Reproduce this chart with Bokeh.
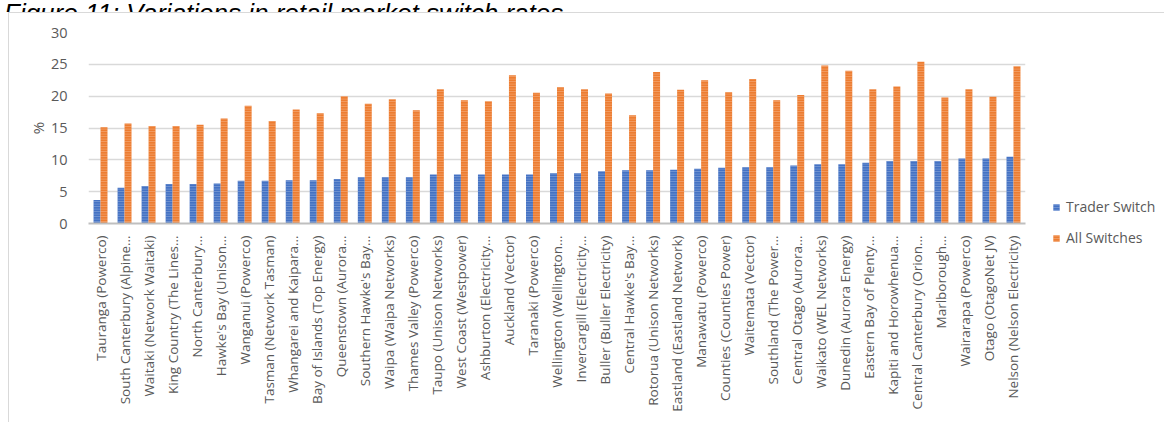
import math
from bokeh.plotting import figure
from bokeh.layouts import column
from bokeh.models import (FactorRange, ColumnDataSource, Legend, LegendItem, Div,
                          SingleIntervalTicker)
from bokeh.transform import dodge
from bokeh.embed import file_html
from bokeh.resources import INLINE

categories = [
    "Tauranga (Powerco)", "South Canterbury (Alpine…", "Waitaki (Network Waitaki)",
    "King Country (The Lines…", "North Canterbury…", "Hawke's Bay (Unison…",
    "Wanganui (Powerco)", "Tasman (Network Tasman)", "Whangarei and Kaipara…",
    "Bay of Islands (Top Energy)", "Queenstown (Aurora…", "Southern Hawke's Bay…",
    "Waipa (Waipa Networks)", "Thames Valley (Powerco)", "Taupo (Unison Networks)",
    "West Coast (Westpower)", "Ashburton (Electricity…", "Auckland (Vector)",
    "Taranaki (Powerco)", "Wellington (Wellington…", "Invercargill (Electricity…",
    "Buller (Buller Electricity)", "Central Hawke's Bay…", "Rotorua (Unison Networks)",
    "Eastland (Eastland Network)", "Manawatu (Powerco)", "Counties (Counties Power)",
    "Waitemata (Vector)", "Southland (The Power…", "Central Otago (Aurora…",
    "Waikato (WEL Networks)", "Dunedin (Aurora Energy)", "Eastern Bay of Plenty…",
    "Kapiti and Horowhenua…", "Central Canterbury (Orion…", "Marlborough…",
    "Wairarapa (Powerco)", "Otago (OtagoNet JV)", "Nelson (Nelson Electricity)",
]
trader_switch = [
    3.7, 5.6, 5.9, 6.2, 6.2, 6.3, 6.7, 6.7, 6.8, 6.8, 7.0, 7.25, 7.25,
    7.25, 7.7, 7.7, 7.7, 7.7, 7.7, 7.9, 7.9, 8.2, 8.35, 8.35, 8.45, 8.6,
    8.75, 8.85, 8.85, 9.1, 9.3, 9.3, 9.55, 9.8, 9.8, 9.8, 10.2, 10.2, 10.5,
]
all_switches = [
    15.1, 15.7, 15.3, 15.3, 15.5, 16.5, 18.5, 16.1, 17.9, 17.3, 20.0, 18.8, 19.5,
    17.8, 21.1, 19.35, 19.2, 23.3, 20.55, 21.4, 21.1, 20.4, 17.0, 23.8, 21.0, 22.5,
    20.6, 22.7, 19.35, 20.2, 24.8, 24.0, 21.1, 21.5, 25.4, 19.8, 21.1, 19.9, 24.7,
]
series_names = ["Trader Switch", "All Switches"]
title_text = "Figure 11: Variations in retail market switch rates"

src = ColumnDataSource(dict(cat=categories, ts=trader_switch, al=all_switches))

# title strip (only the lower part of the caption is visible, as in the source)
title = Div(text=title_text, width=1164, height=12, margin=0,
            styles={"overflow": "hidden", "white-space": "nowrap",
                    "font-family": "'Liberation Sans', Arial, sans-serif",
                    "font-style": "italic", "font-size": "26px", "color": "black",
                    "line-height": "26px"},
            stylesheets=[":host > div, div { margin-top: -14px; margin-left: 4px; }"])

p = figure(frame_width=937, frame_height=191,
           x_range=FactorRange(*categories, range_padding=0),
           y_range=(0, 30), output_backend="svg", toolbar_location=None,
           min_border_left=88, min_border_right=0, min_border_top=20,
           min_border_bottom=199, margin=0)
p.x_range.range_padding = 0
p.border_fill_color = None
p.background_fill_color = "white"
p.styles = {
    "background-color": "white",
    "background-image": "linear-gradient(#d9d9d9, #d9d9d9), linear-gradient(#d9d9d9, #d9d9d9)",
    "background-size": "1px 420px, 1160px 1px",
    "background-position": "8px 0px, 8px 0px",
    "background-repeat": "no-repeat",
}

bw = 0.29
r1 = p.vbar(x=dodge("cat", -bw / 2, range=p.x_range), top="ts", width=bw, source=src,
            fill_color="#4472C4", line_color=None,
            hatch_pattern="horizontal_line", hatch_color="white", hatch_alpha=0.28,
            hatch_scale=2.5, hatch_weight=1)
r2 = p.vbar(x=dodge("cat", bw / 2, range=p.x_range), top="al", width=bw, source=src,
            fill_color="#ED7D31", line_color=None,
            hatch_pattern="horizontal_line", hatch_color="white", hatch_alpha=0.28,
            hatch_scale=2.5, hatch_weight=1)

FONT = "Open Sans"
p.outline_line_color = None
p.xgrid.grid_line_color = None
p.ygrid.grid_line_color = "#d9d9d9"
p.ygrid.grid_line_width = 1.3
p.yaxis.ticker = SingleIntervalTicker(interval=5)
p.yaxis.axis_line_color = None
p.yaxis.major_tick_line_color = None
p.yaxis.minor_tick_line_color = None
p.yaxis.major_label_text_font = FONT
p.yaxis.major_label_text_font_size = "14.5px"
p.yaxis.major_label_text_color = "#595959"
p.yaxis.major_label_standoff = 15
p.yaxis.axis_label = "%"
p.yaxis.axis_label_text_font = FONT
p.yaxis.axis_label_text_font_size = "15px"
p.yaxis.axis_label_text_font_style = "normal"
p.yaxis.axis_label_text_color = "#595959"
p.yaxis.axis_label_standoff = 0

p.xaxis.axis_line_color = "#bfbfbf"
p.xaxis.axis_line_width = 2
p.xaxis.major_tick_line_color = None
p.xaxis.minor_tick_line_color = None
p.xaxis.major_label_orientation = math.pi / 2
p.xaxis.major_label_text_font = FONT
p.xaxis.major_label_text_font_size = "13.5px"
p.xaxis.major_label_text_color = "#595959"
p.xaxis.major_label_standoff = 6

legend = Legend(items=[LegendItem(label=series_names[0], renderers=[r1]),
                       LegendItem(label=series_names[1], renderers=[r2])],
                location=(27, -24), orientation="vertical",
                label_text_font=FONT, label_text_font_size="14px",
                label_text_color="#595959", glyph_width=8, glyph_height=8,
                spacing=12, border_line_color=None, background_fill_alpha=0,
                padding=4, label_standoff=6)
p.add_layout(legend, "right")

layout = column(title, p, spacing=0, margin=0)
open("out.html", "w").write(file_html(layout, INLINE))
